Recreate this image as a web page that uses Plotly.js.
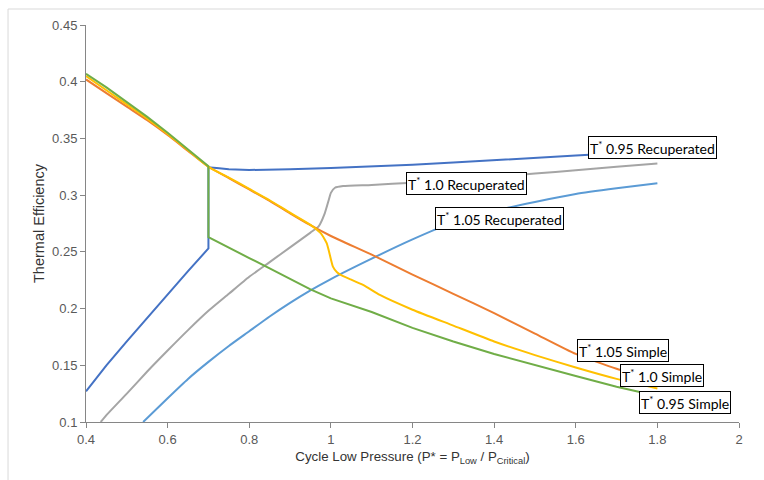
<!DOCTYPE html>
<html>
<head>
<meta charset="utf-8">
<script src="https://cdn.plot.ly/plotly-3.0.1.min.js"></script>
<style>html,body{margin:0;padding:0;background:#fff;}#chart{width:764px;height:480px;}</style>
</head>
<body>
<div id="chart"></div>
<script>
// ---- Data ----
const rec095_x = [0.40,0.45,0.50,0.55,0.60,0.65,0.70,0.70,0.72,0.75,0.80,0.85,0.90,1.00,1.10,1.20,1.30,1.40,1.50,1.60,1.70,1.80];
const rec095_y = [0.127,0.150,0.171,0.192,0.213,0.233,0.253,0.3245,0.324,0.3228,0.3222,0.3222,0.3228,0.324,0.3252,0.3268,0.3287,0.331,0.3332,0.3350,0.337,0.339];

const rec100_x = [0.436,0.45,0.50,0.55,0.60,0.65,0.70,0.75,0.80,0.85,0.90,0.95,0.97,0.985,0.995,1.00,1.01,1.03,1.10,1.20,1.30,1.40,1.50,1.60,1.70,1.80];
const rec100_y = [0.100,0.106,0.125,0.1445,0.163,0.181,0.198,0.213,0.228,0.241,0.254,0.267,0.2725,0.284,0.296,0.302,0.3065,0.308,0.309,0.311,0.3135,0.316,0.319,0.322,0.325,0.328];

const rec105_x = [0.54,0.60,0.65,0.70,0.75,0.80,0.85,0.90,0.95,1.00,1.10,1.20,1.30,1.40,1.50,1.60,1.70,1.80];
const rec105_y = [0.100,0.121,0.138,0.153,0.167,0.180,0.193,0.205,0.216,0.226,0.244,0.261,0.276,0.286,0.294,0.301,0.306,0.3105];

const sim105_x = [0.40,0.45,0.50,0.55,0.60,0.65,0.70,0.75,0.80,0.85,0.90,0.95,1.00,1.10,1.20,1.30,1.40,1.50,1.60,1.70,1.80];
const sim105_y = [0.402,0.390,0.378,0.366,0.353,0.339,0.325,0.315,0.305,0.295,0.284,0.2735,0.264,0.2475,0.230,0.213,0.196,0.178,0.160,0.147,0.137];

const sim100_x = [0.40,0.45,0.50,0.55,0.60,0.65,0.70,0.75,0.80,0.85,0.90,0.95,0.975,0.985,0.99,0.995,1.00,1.005,1.015,1.03,1.05,1.08,1.12,1.20,1.30,1.40,1.50,1.60,1.70,1.80];
const sim100_y = [0.405,0.3925,0.380,0.3675,0.354,0.3395,0.325,0.3155,0.3055,0.2955,0.2845,0.2738,0.2665,0.261,0.2575,0.251,0.2435,0.237,0.232,0.2285,0.2255,0.2207,0.212,0.199,0.185,0.171,0.159,0.148,0.138,0.1296];

const sim095_x = [0.40,0.45,0.50,0.55,0.60,0.65,0.70,0.70,0.75,0.80,0.85,0.90,0.95,1.00,1.10,1.20,1.30,1.40,1.50,1.60,1.70,1.80];
const sim095_y = [0.407,0.395,0.382,0.369,0.355,0.340,0.3255,0.263,0.2535,0.2445,0.2355,0.226,0.217,0.209,0.197,0.183,0.171,0.160,0.150,0.1405,0.131,0.123];

const seriesNames = ["T* 0.95 Recuperated","T* 1.0 Recuperated","T* 1.05 Recuperated","T* 1.05 Simple","T* 1.0 Simple","T* 0.95 Simple"];
const labelText = ["T<sup>*</sup> 0.95 Recuperated","T<sup>*</sup> 1.0 Recuperated","T<sup>*</sup> 1.05 Recuperated","T<sup>*</sup> 1.05 Simple","T<sup>*</sup> 1.0 Simple","T<sup>*</sup> 0.95 Simple"];
const labelX = [1.788,1.3324,1.4125,1.7154,1.8107,1.8678];
const labelY = [0.3424,0.3104,0.2798,0.1634,0.1407,0.1171];

const colors = ["#4472C4","#A5A5A5","#5B9BD5","#ED7D31","#FFC000","#70AD47"];
const shapes = ["linear","spline","spline","spline","spline","linear"];
const xs = [rec095_x,rec100_x,rec105_x,sim105_x,sim100_x,sim095_x];
const ys = [rec095_y,rec100_y,rec105_y,sim105_y,sim100_y,sim095_y];

const traces = xs.map((x,i)=>({
  x: x, y: ys[i], type:'scatter', mode:'lines', name: seriesNames[i],
  line:{color:colors[i], width:2, shape:shapes[i], smoothing:0.5}, hoverinfo:'skip'
}));

const annotations = labelText.map((t,i)=>({
  x: labelX[i], y: labelY[i], xref:'x', yref:'y', text:t, showarrow:false,
  bgcolor:'#ffffff', bordercolor:'#000000', borderwidth:1, borderpad:1,
  font:{family:'Lato, sans-serif', size:14, color:'#000000'},
  xanchor:'center', yanchor:'middle'
}));

const axisCommon = {
  showline:true, linecolor:'#868686', linewidth:1, ticks:'outside', ticklen:5,
  tickcolor:'#868686', showgrid:false, zeroline:false,
  tickfont:{family:'Liberation Sans, Arial, sans-serif', size:13, color:'#595959'}
};

const layout = {
  width:764, height:480,
  margin:{l:86, r:25, t:25, b:58},
  paper_bgcolor:'#ffffff', plot_bgcolor:'#ffffff',
  showlegend:false,
  xaxis: Object.assign({}, axisCommon, {
    range:[0.4,2], dtick:0.2, tick0:0.4,
    title:{text:'Cycle Low Pressure (P* = P<sub>Low</sub> / P<sub>Critical</sub>)', standoff:6,
      font:{family:'Liberation Sans, Arial, sans-serif', size:13.3, color:'#333333'}}
  }),
  yaxis: Object.assign({}, axisCommon, {
    range:[0.1,0.45], dtick:0.05, tick0:0.1,
    title:{text:'Thermal Efficiency', standoff:4,
      font:{family:'Liberation Sans, Arial, sans-serif', size:14.5, color:'#333333'}}
  }),
  annotations: annotations,
  shapes:[
    {type:'line', xref:'paper', yref:'paper', x0:-0.1194, x1:1.05, y0:1.0403, y1:1.0403, line:{color:'#d9d9d9', width:1}},
    {type:'line', xref:'paper', yref:'paper', x0:-0.1194, x1:-0.1194, y0:1.0403, y1:-0.16, line:{color:'#d9d9d9', width:1}}
  ]
};

Plotly.newPlot('chart', traces, layout, {displayModeBar:false, staticPlot:true});
</script>
</body>
</html>
